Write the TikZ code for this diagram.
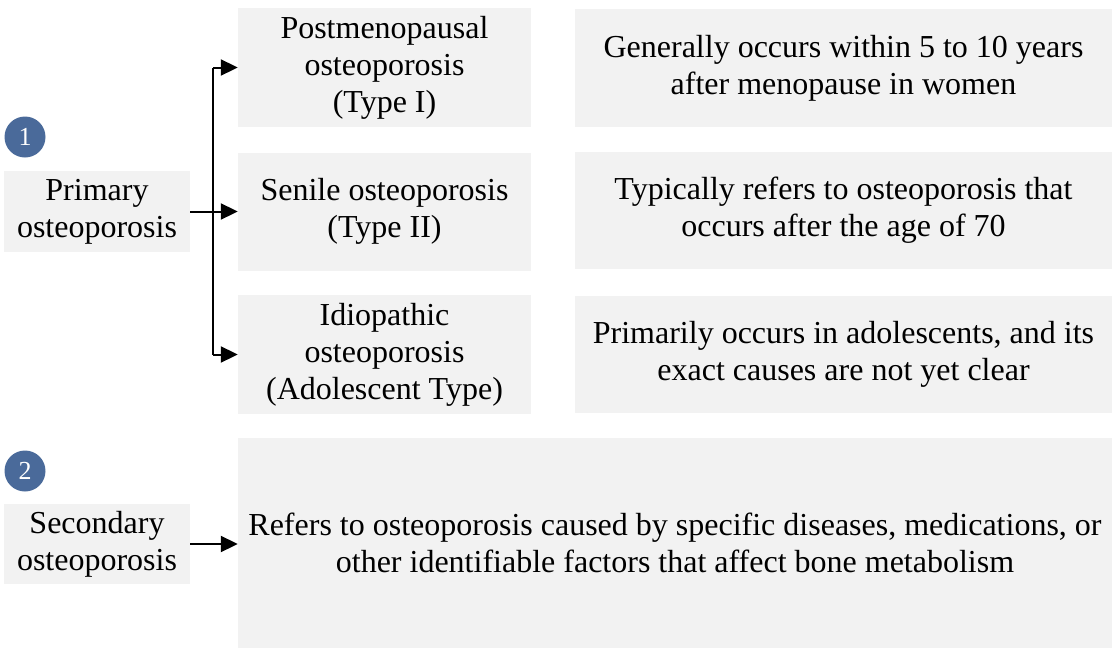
\documentclass[tikz,border=0pt]{standalone}
\usepackage{fontspec}
\setmainfont{Liberation Serif}
\usetikzlibrary{arrows.meta,calc}
\definecolor{boxgray}{HTML}{F2F2F2}
\definecolor{numblue}{HTML}{4A6A9A}
\begin{document}
\begin{tikzpicture}[x=1pt,y=-1pt,
  gbox/.style={fill=boxgray,draw=none,inner sep=0pt,align=center,
    font=\fontsize{32}{37}\selectfont},
  numcirc/.style={circle,fill=numblue,draw=none,inner sep=0pt,minimum size=41pt,
    text=white,font=\fontsize{26}{26}\selectfont},
  arr/.style={line width=2pt,-{Triangle[length=17pt,width=16pt]}},
  plain/.style={line width=2pt}]
\useasboundingbox (0,0) rectangle (1112,648);
% left labels
\node[gbox,minimum width=186pt,minimum height=81pt] (prim) at (97,211.5) {Primary\\osteoporosis};
\node[gbox,minimum width=186pt,minimum height=80pt] (sec) at (97,544) {Secondary\\osteoporosis};
\node[numcirc] (n1) at (25,137) {1};
\node[numcirc] (n2) at (25,471) {2};
% type boxes
\node[gbox,minimum width=293pt,minimum height=119pt] (t1) at (384.5,67.5) {Postmenopausal\\osteoporosis\\(Type I)};
\node[gbox,minimum width=293pt,minimum height=118pt] (t2) at (384.5,211.5) {Senile osteoporosis\\(Type II)};
\node[gbox,minimum width=293pt,minimum height=119pt] (t3) at (384.5,354.5) {Idiopathic\\osteoporosis\\(Adolescent Type)};
% descriptions
\node[gbox,minimum width=537pt,minimum height=118pt] (d1) at (843.5,68) {Generally occurs within 5 to 10 years\\after menopause in women};
\node[gbox,minimum width=537pt,minimum height=117pt] (d2) at (843.5,210.5) {Typically refers to osteoporosis that\\occurs after the age of 70};
\node[gbox,minimum width=537pt,minimum height=117pt] (d3) at (843.5,354.5) {Primarily occurs in adolescents, and its\\exact causes are not yet clear};
\node[gbox,minimum width=874pt,minimum height=210pt] (big) at (675,543) {Refers to osteoporosis caused by specific diseases, medications, or\\other identifiable factors that affect bone metabolism};
% connectors
\coordinate (j) at (213,211.5);
\draw[plain,line join=miter] (j |- t1.west) -- (j |- t3.west);
\draw[arr] (j |- t1.west) -- (t1.west);
\draw[arr] (j |- t3.west) -- (t3.west);
\draw[arr] (prim.east) -- (t2.west);
\draw[arr] (sec.east) -- (sec.east -| big.west);
\end{tikzpicture}
\end{document}
